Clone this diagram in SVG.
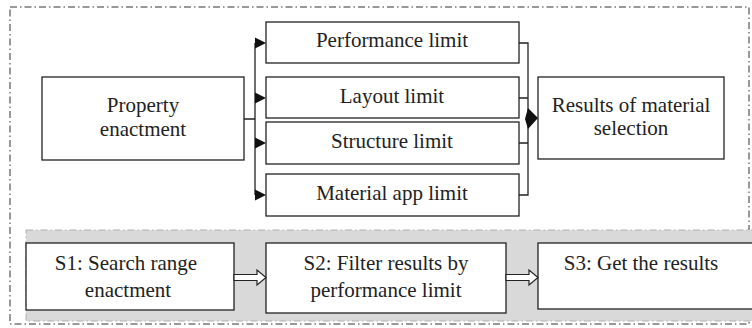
<svg xmlns="http://www.w3.org/2000/svg" width="752" height="328" viewBox="0 0 752 328">
<style>
.box{fill:#fff;stroke:#222;stroke-width:1.3}
.t{font-family:'Liberation Serif','Times New Roman','DejaVu Serif',serif;font-size:21px;fill:#222;text-anchor:middle}
.ln{fill:none;stroke:#222;stroke-width:1.3}
.hd{fill:#111;stroke:none}
.hol{fill:#fff;stroke:#222;stroke-width:1.2}
</style>
<rect x="10" y="7" width="739" height="317" fill="none" stroke="#333" stroke-width="1" stroke-dasharray="7 3 1.5 3"/>
<rect id="stage" x="26" y="230" width="730" height="91" fill="#d9d9d9" stroke="#b0b0b0" stroke-width="1" stroke-dasharray="7 3 1.5 3"/>
<g id="property"><rect class="box" x="42" y="77" width="202" height="83"/><text class="t" font-family="Liberation Serif, serif" x="143" y="112">Property</text><text class="t" font-family="Liberation Serif, serif" x="143" y="136">enactment</text></g>
<g id="performance"><rect class="box" x="266" y="22" width="253" height="41"/><text class="t" font-family="Liberation Serif, serif" x="392" y="47">Performance limit</text></g>
<g id="layout"><rect class="box" x="266" y="77" width="253" height="41"/><text class="t" font-family="Liberation Serif, serif" x="392" y="102.5">Layout limit</text></g>
<g id="structure"><rect class="box" x="266" y="122" width="253" height="42"/><text class="t" font-family="Liberation Serif, serif" x="392" y="148">Structure limit</text></g>
<g id="material"><rect class="box" x="266" y="174" width="253" height="42"/><text class="t" font-family="Liberation Serif, serif" x="392" y="200">Material app limit</text></g>
<g id="results"><rect class="box" x="538" y="77" width="186" height="82"/><text class="t" font-family="Liberation Serif, serif" x="631" y="111.5">Results of material</text><text class="t" font-family="Liberation Serif, serif" x="631" y="135">selection</text></g>
<g id="s1"><rect class="box" x="26" y="243" width="208" height="67"/><text class="t" font-family="Liberation Serif, serif" x="126" y="270">S1: Search range</text><text class="t" font-family="Liberation Serif, serif" x="128" y="297">enactment</text></g>
<g id="s2"><rect class="box" x="266" y="243" width="240" height="70"/><text class="t" font-family="Liberation Serif, serif" x="386" y="270">S2: Filter results by</text><text class="t" font-family="Liberation Serif, serif" x="386" y="297">performance limit</text></g>
<g id="s3"><rect class="box" x="538" y="243" width="220" height="66"/><text class="t" font-family="Liberation Serif, serif" x="641" y="270">S3: Get the results</text></g>
<g id="connectors">
<path class="ln" d="M244 119H255M255 43V195M255 43H258M255 98H258M255 143H258M255 195H258"/>
<polygon class="hd" points="255,37.5 266,43 255,48.5"/>
<polygon class="hd" points="255,92.5 266,98 255,103.5"/>
<polygon class="hd" points="255,137.5 266,143 255,148.5"/>
<polygon class="hd" points="255,189.5 266,195 255,200.5"/>
<path class="ln" d="M519 43H528V195H519M519 98H528M519 143H528"/>
<polygon class="hd" points="528,108 538,118 528,129 525,119"/>
<polygon class="hol" points="234,274.5 257,274.5 257,270 266,277.5 257,285 257,280.5 234,280.5"/>
<polygon class="hol" points="506,274.5 529,274.5 529,270 538,277.5 529,285 529,280.5 506,280.5"/>
</g>
</svg>
